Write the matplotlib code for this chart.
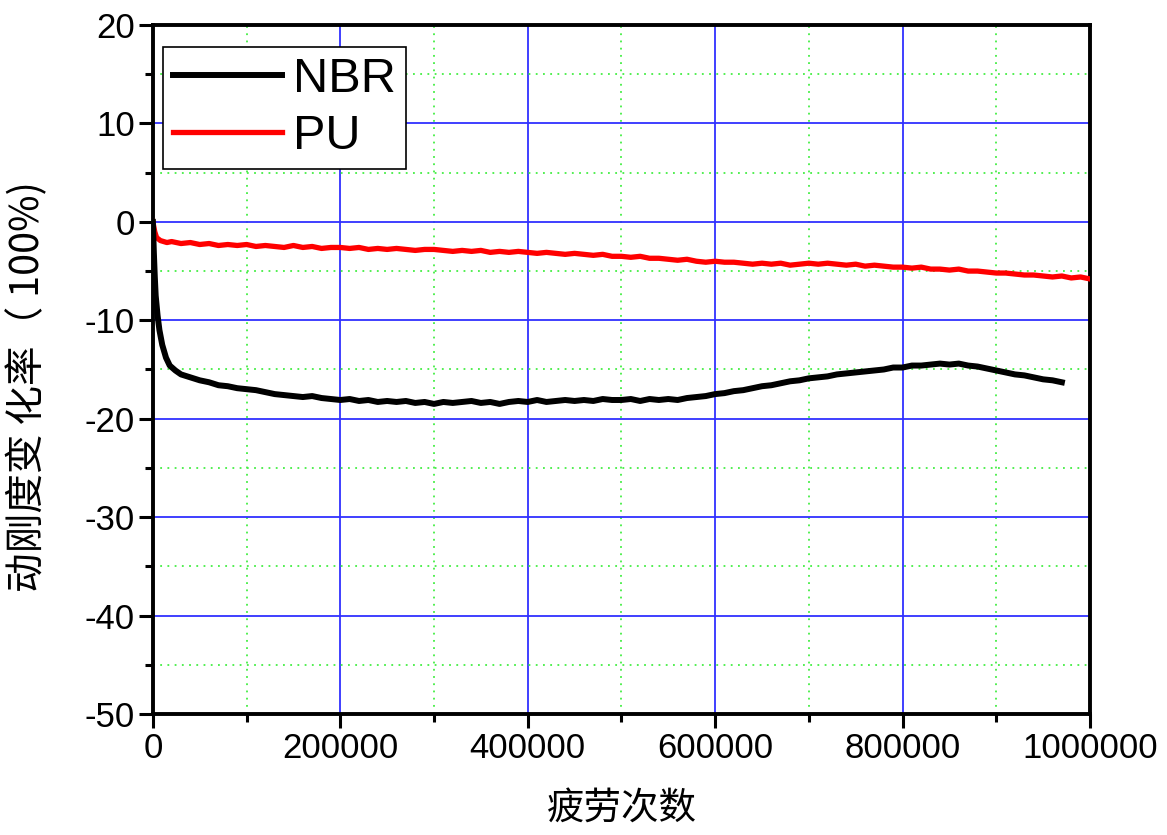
import numpy as np
import matplotlib.pyplot as plt
from matplotlib.ticker import MultipleLocator, FormatStrFormatter

plt.rcParams['font.family'] = ['Liberation Sans', 'Noto Sans CJK SC', 'DejaVu Sans']
plt.rcParams['axes.unicode_minus'] = False

# NBR 曲线 (疲劳次数, 千次)
nbr_k = [0, 1, 2, 3, 5, 7, 10, 14, 18, 24, 30, 40, 50, 60, 70, 80, 90, 100,
         110, 120, 130, 140, 150, 160, 170, 180, 190, 200, 210, 220, 230, 240,
         250, 260, 270, 280, 290, 300, 310, 320, 330, 340, 350, 360, 370, 380,
         390, 400, 410, 420, 430, 440, 450, 460, 470, 480, 490, 500, 510, 520,
         530, 540, 550, 560, 570, 580, 590, 600, 610, 620, 630, 640, 650, 660,
         670, 680, 690, 700, 710, 720, 730, 740, 750, 760, 770, 780, 790, 800,
         810, 820, 830, 840, 850, 860, 870, 880, 890, 900, 910, 920, 930, 940,
         950, 960, 970]
nbr_val = [0, -3, -5.5, -7.5, -9.5, -11, -12.5, -13.8, -14.6, -15.1, -15.5,
           -15.8, -16.1, -16.3, -16.6, -16.7, -16.9, -17.0, -17.1, -17.3, -17.5,
           -17.6, -17.7, -17.8, -17.7, -17.9, -18.0, -18.1, -18.0, -18.2, -18.1,
           -18.3, -18.2, -18.3, -18.2, -18.4, -18.3, -18.5, -18.3, -18.4, -18.3,
           -18.2, -18.4, -18.3, -18.5, -18.3, -18.2, -18.3, -18.1, -18.3, -18.2,
           -18.1, -18.2, -18.1, -18.2, -18.0, -18.1, -18.1, -18.0, -18.2, -18.0,
           -18.1, -18.0, -18.1, -17.9, -17.8, -17.7, -17.5, -17.4, -17.2, -17.1,
           -16.9, -16.7, -16.6, -16.4, -16.2, -16.1, -15.9, -15.8, -15.7, -15.5,
           -15.4, -15.3, -15.2, -15.1, -15.0, -14.8, -14.8, -14.6, -14.6, -14.5,
           -14.4, -14.5, -14.4, -14.6, -14.7, -14.9, -15.1, -15.3, -15.5, -15.6,
           -15.8, -16.0, -16.1, -16.3]

# PU 曲线
pu_k = [0, 2, 4, 8, 15, 20, 30, 40, 50, 60, 70, 80, 90, 100, 110, 120, 130,
        140, 150, 160, 170, 180, 190, 200, 210, 220, 230, 240, 250, 260, 270,
        280, 290, 300, 310, 320, 330, 340, 350, 360, 370, 380, 390, 400, 410,
        420, 430, 440, 450, 460, 470, 480, 490, 500, 510, 520, 530, 540, 550,
        560, 570, 580, 590, 600, 610, 620, 630, 640, 650, 660, 670, 680, 690,
        700, 710, 720, 730, 740, 750, 760, 770, 780, 790, 800, 810, 820, 830,
        840, 850, 860, 870, 880, 890, 900, 910, 920, 930, 940, 950, 960, 970,
        980, 990, 1000]
pu_val = [0, -1.0, -1.6, -1.9, -2.1, -2.0, -2.2, -2.1, -2.3, -2.2, -2.4, -2.3,
          -2.4, -2.3, -2.5, -2.4, -2.5, -2.6, -2.4, -2.6, -2.5, -2.7, -2.6,
          -2.6, -2.7, -2.6, -2.8, -2.7, -2.8, -2.7, -2.8, -2.9, -2.8, -2.8,
          -2.9, -3.0, -2.9, -3.0, -2.9, -3.1, -3.0, -3.1, -3.0, -3.1, -3.2,
          -3.1, -3.2, -3.3, -3.2, -3.3, -3.4, -3.3, -3.5, -3.5, -3.6, -3.5,
          -3.7, -3.7, -3.8, -3.9, -3.8, -4.0, -4.1, -4.0, -4.1, -4.1, -4.2,
          -4.3, -4.2, -4.3, -4.2, -4.4, -4.3, -4.2, -4.3, -4.2, -4.3, -4.4,
          -4.3, -4.5, -4.4, -4.5, -4.6, -4.6, -4.7, -4.6, -4.8, -4.8, -4.9,
          -4.8, -5.0, -5.0, -5.1, -5.2, -5.2, -5.3, -5.4, -5.4, -5.5, -5.6,
          -5.5, -5.7, -5.6, -5.8]

nbr_x = np.array(nbr_k) * 1000
pu_x = np.array(pu_k) * 1000

fig = plt.figure(figsize=(11.67, 8.35), dpi=100)
ax = fig.add_axes([0.131, 0.145, 0.803, 0.825])

ax.plot(pu_x, pu_val, color='red', lw=3.8, label='PU', zorder=3)
ax.plot(nbr_x, nbr_val, color='black', lw=4.3, label='NBR', zorder=4)

ax.set_xlim(0, 1000000)
ax.set_ylim(-50, 20)
ax.xaxis.set_major_locator(MultipleLocator(200000))
ax.xaxis.set_minor_locator(MultipleLocator(100000))
ax.xaxis.set_major_formatter(FormatStrFormatter('%d'))
ax.yaxis.set_major_locator(MultipleLocator(10))
ax.yaxis.set_minor_locator(MultipleLocator(5))

ax.grid(which='major', color='#3030ff', lw=1.3, ls='-', zorder=1)
ax.grid(which='minor', color='#44ee44', lw=1.3, ls=(0, (1, 3)), zorder=1)
ax.set_axisbelow(True)

ax.tick_params(which='major', direction='out', length=10, width=2.2, labelsize=25, pad=3)
ax.tick_params(which='minor', direction='out', length=6, width=2.2)
for s in ax.spines.values():
    s.set_linewidth(2.8)

ax.set_xlabel('疲劳次数', fontsize=27, family=['Noto Sans CJK SC'], labelpad=18)
ax.set_ylabel('动刚度变 化率（ 100%)', fontsize=28.5, family=['Noto Sans CJK SC', 'Liberation Sans'])
ax.yaxis.set_label_coords(-0.112, 0.475)

h, l = ax.get_legend_handles_labels()
leg = ax.legend(h[::-1], l[::-1], loc='upper left', bbox_to_anchor=(0.011, 0.968),
                fontsize=35, handlelength=2.25, handletextpad=0.22, borderpad=0.2,
                labelspacing=0.25, fancybox=False, framealpha=1, edgecolor='black',
                borderaxespad=0)
leg.get_frame().set_linewidth(1.2)

fig.savefig('out.png', dpi=100)
